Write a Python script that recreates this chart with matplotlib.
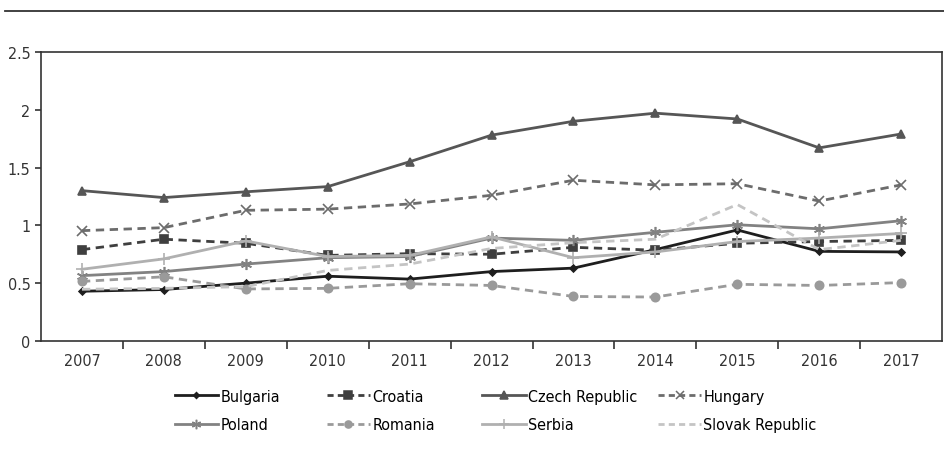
import numpy as np
import matplotlib
matplotlib.use("Agg")
import matplotlib.pyplot as plt
from matplotlib.lines import Line2D

plt.rcParams['font.family'] = ['DejaVu Sans']
plt.rcParams['font.stretch'] = 'condensed'

years = ["2007", "2008", "2009", "2010", "2011", "2012", "2013", "2014", "2015", "2016", "2017"]

bulgaria = [0.43, 0.445, 0.50, 0.56, 0.535, 0.60, 0.63, 0.79, 0.96, 0.775, 0.77]
croatia = [0.79, 0.88, 0.845, 0.74, 0.755, 0.75, 0.81, 0.785, 0.845, 0.86, 0.87]
czech = [1.30, 1.24, 1.29, 1.335, 1.55, 1.78, 1.90, 1.97, 1.92, 1.67, 1.79]
hungary = [0.954, 0.98, 1.13, 1.14, 1.185, 1.26, 1.39, 1.35, 1.36, 1.21, 1.35]
poland = [0.565, 0.60, 0.665, 0.72, 0.73, 0.89, 0.87, 0.94, 1.005, 0.97, 1.04]
romania = [0.515, 0.555, 0.45, 0.455, 0.495, 0.48, 0.385, 0.38, 0.49, 0.48, 0.505]
serbia = [0.62, 0.71, 0.865, 0.73, 0.74, 0.90, 0.72, 0.77, 0.86, 0.89, 0.93]
slovak = [0.447, 0.455, 0.47, 0.61, 0.665, 0.80, 0.85, 0.88, 1.18, 0.79, 0.87]

# name, data, color, linestyle, marker, marker size
series = [
    ("Bulgaria", bulgaria, "#1e1e1e", "-", "D", 3.5),
    ("Croatia", croatia, "#3f3f3f", "--", "s", 6),
    ("Czech Republic", czech, "#565656", "-", "^", 6),
    ("Hungary", hungary, "#6c6c6c", "--", "x", 7),
    ("Poland", poland, "#828282", "-", (6, 2, 0), 8),
    ("Romania", romania, "#9a9a9a", "--", "o", 6),
    ("Serbia", serbia, "#b0b0b0", "-", "+", 8),
    ("Slovak Republic", slovak, "#c4c4c4", "--", None, 0),
]

fig = plt.figure(figsize=(9.44, 4.64), dpi=100)
ax = fig.add_axes([0.0434, 0.263, 0.9546, 0.623])

x = np.arange(len(years))
handles = []
for name, vals, col, ls, mk, ms in series:
    d = (3, 2) if ls == "--" else (None, None)
    ax.plot(x, vals, color=col, linestyle=ls, linewidth=2.0, marker=mk,
            markersize=ms, markeredgewidth=1.2, dashes=d, zorder=3)
    handles.append(Line2D([0], [0], color=col, linestyle=ls, linewidth=2.0, marker=mk,
                          markersize=ms * 0.85, markeredgewidth=1.1,
                          dashes=(2.2, 1.5) if ls == "--" else (None, None)))

ax.set_xlim(-0.5, len(years) - 0.5)
ax.set_ylim(0, 2.5)
ax.set_yticks([0, 0.5, 1, 1.5, 2, 2.5])
ax.set_yticklabels(["0", "0.5", "1", "1.5", "2", "2.5"])
ax.set_xticks(x)
ax.set_xticklabels(years)
ax.set_xticks(np.arange(0.5, len(years) - 1, 1), minor=True)
ax.tick_params(axis='x', which='major', length=0, pad=9, labelsize=11.5, colors="#333333")
ax.tick_params(axis='x', which='minor', length=6, width=1.2, color="#333333")
ax.tick_params(axis='y', length=4, width=1.2, labelsize=11.5, color="#333333", labelcolor="#333333")
for sp in ax.spines.values():
    sp.set_color("#333333")
    sp.set_linewidth(1.2)

# legend: 4 fixed-position columns, filled row by row like the original
col_x = [0.185, 0.346, 0.511, 0.697]
for c, x0 in enumerate(col_x):
    idx = [c, c + 4]
    fig.legend([handles[i] for i in idx], [series[i][0] for i in idx],
               loc="upper left", bbox_to_anchor=(x0, 0.16), frameon=False,
               fontsize=11.5, handlelength=2.7, handletextpad=0.15,
               labelspacing=0.85, borderaxespad=0, borderpad=0)

fig.add_artist(Line2D([0.005, 1.0], [0.974, 0.974], color="#333333", linewidth=1.3,
                      transform=fig.transFigure))

fig.savefig("out.png", dpi=100)
